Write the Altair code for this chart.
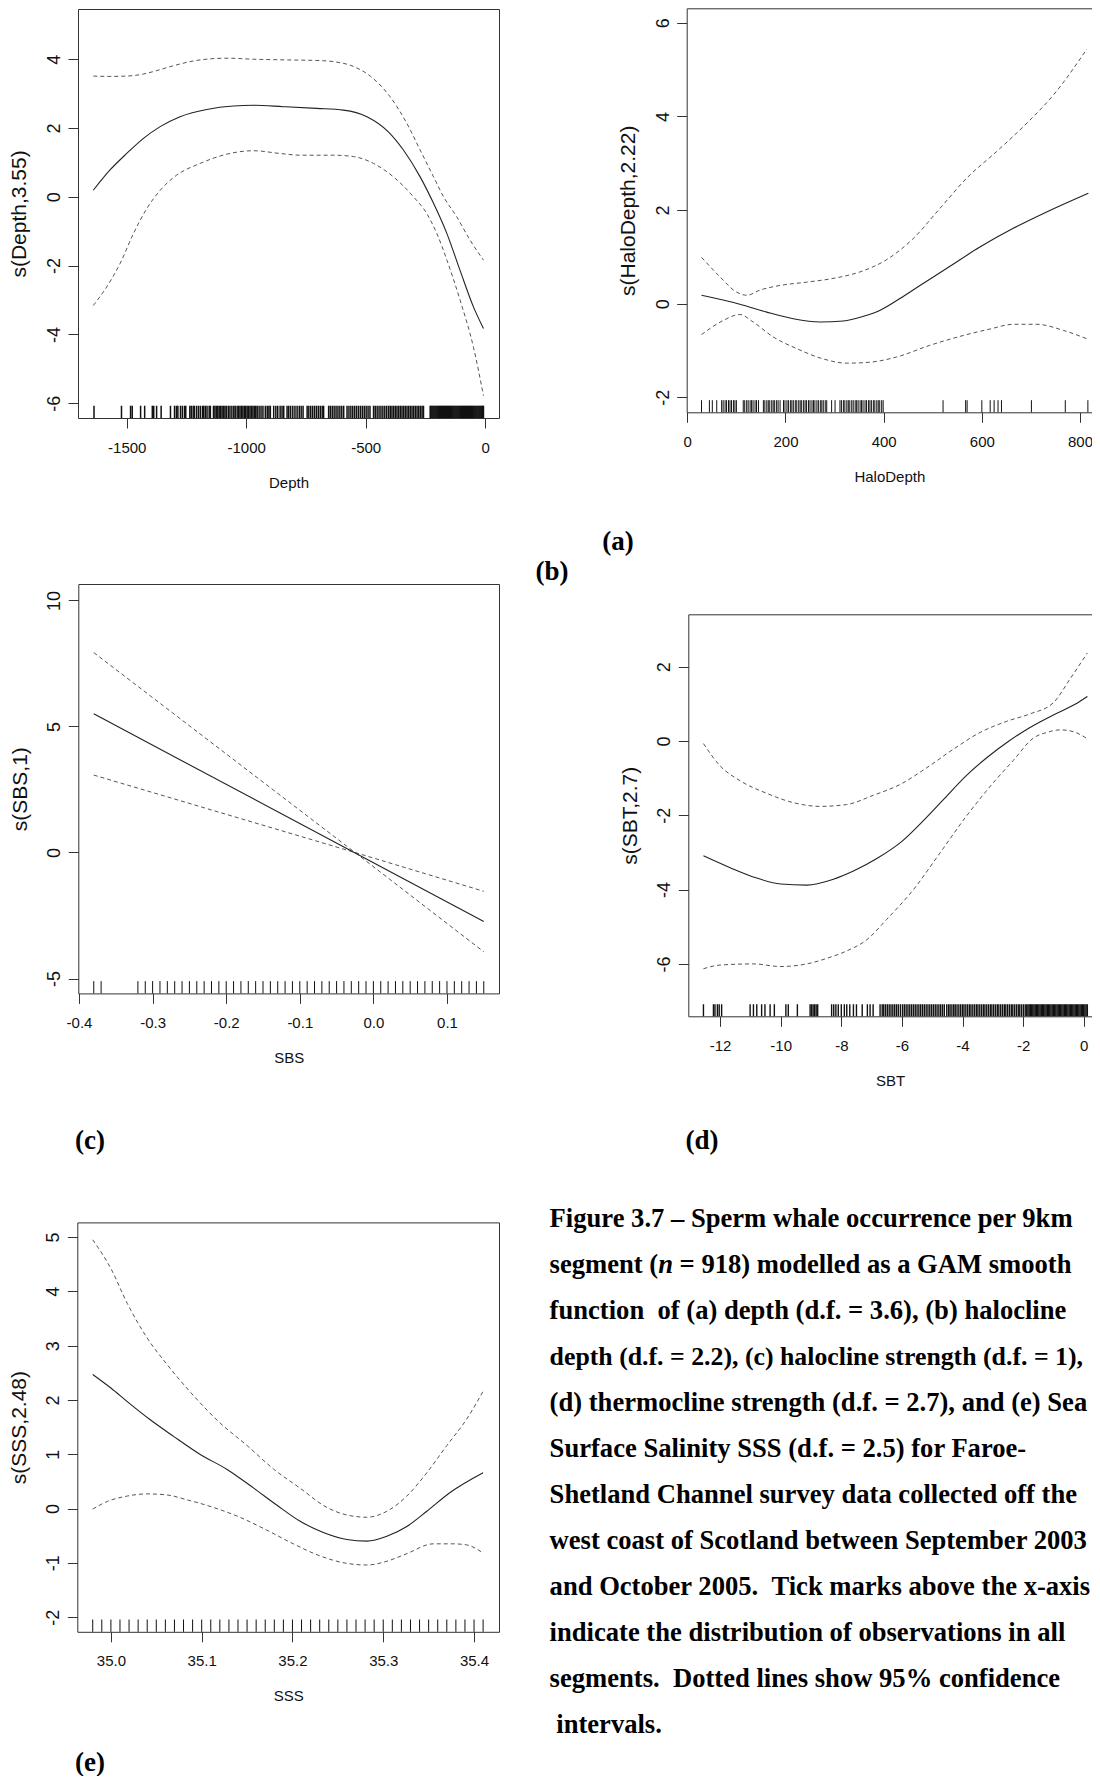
import altair as alt
import pandas as pd

# ---------------- (a) Depth ----------------
depth_fit_x = [-1640, -1570, -1500, -1430, -1360, -1277, -1165, -1053, -970, -844, -705, -593, -495, -405, -342, -272, -216, -160, -105, -49, -7]
depth_fit_y = [0.19, 0.78, 1.26, 1.70, 2.04, 2.33, 2.54, 2.64, 2.66, 2.62, 2.57, 2.52, 2.33, 1.89, 1.36, 0.58, -0.19, -1.07, -2.14, -3.20, -3.83]
depth_up_x = [-1640, -1570, -1500, -1430, -1374, -1305, -1193, -1081, -970, -830, -691, -635, -551, -481, -398, -328, -272, -216, -174, -119, -63, -7]
depth_up_y = [3.51, 3.50, 3.51, 3.57, 3.67, 3.81, 3.98, 4.03, 4.00, 3.98, 3.96, 3.93, 3.79, 3.51, 2.91, 2.14, 1.36, 0.58, 0.00, -0.58, -1.26, -1.84]
depth_lo_x = [-1640, -1584, -1528, -1472, -1416, -1360, -1291, -1193, -1081, -970, -858, -774, -635, -551, -467, -384, -300, -244, -202, -160, -105, -49, -7]
depth_lo_y = [-3.16, -2.62, -1.94, -1.07, -0.34, 0.19, 0.63, 0.97, 1.24, 1.34, 1.26, 1.21, 1.21, 1.17, 0.97, 0.58, 0.00, -0.49, -1.07, -1.84, -3.00, -4.37, -5.78]
depth_rug = [-1637, -1522, -1484, -1477, -1442, -1425, -1393, -1387, -1375, -1356, -1317,
             -1300, -1292, -1286, -1275, -1267, -1258, -1253, -1236, -1230, -1222, -1217, -1208,
             -1200, -1192, -1183, -1178, -1171, -1164, -1155, -1150,
             -1137, -1131, -1125, -1119, -1113, -1107, -1101, -1095, -1089, -1083,
             -1075, -1068, -1060, -1052, -1046,
             -1038, -1032, -1026, -1020, -1014, -1008, -1002, -996, -990, -984, -978, -972, -966, -960, -954,
             -946, -938, -930, -920, -912, -905, -899,
             -885, -876, -868, -858, -850, -843,
             -829, -822, -814, -805, -796, -787, -778, -770, -762,
             -745, -738, -730, -722, -714, -706, -698, -690, -682, -676,
             -655, -648, -640, -632, -624, -616, -608, -600, -592,
             -578, -570, -562, -554, -546, -538, -530, -522, -514, -506, -498, -490, -482,
             -467, -460, -452, -444, -436, -428, -420, -412, -404, -397,
             -390, -383, -376, -369, -362, -355, -348, -341, -334, -327, -320, -313, -306, -299, -292, -285, -278, -271, -264, -258,
             -230, -226, -222, -218, -214, -210, -206, -202, -198, -194, -190, -186, -182, -178, -174, -170, -166, -162,
             -158, -154, -150, -146, -142, -138, -134, -130, -126, -122, -118, -114, -110, -106, -102, -98, -94, -90,
             -86, -82, -78, -74, -70, -66, -62, -58, -54, -50, -46, -42, -38, -34, -30, -26, -22, -18, -14, -10, -7]

# ---------------- (b) HaloDepth ----------------
halo_fit_x = [29, 107, 162, 216, 270, 318, 359, 393, 433, 474, 528, 596, 664, 732, 817]
halo_fit_y = [0.18, -0.01, -0.18, -0.32, -0.39, -0.37, -0.27, -0.14, 0.11, 0.39, 0.75, 1.21, 1.61, 1.96, 2.36]
halo_up_x = [29, 67, 100, 121, 148, 189, 243, 297, 352, 406, 460, 515, 569, 630, 692, 746, 814]
halo_up_y = [0.99, 0.57, 0.25, 0.18, 0.29, 0.39, 0.46, 0.54, 0.68, 0.94, 1.39, 2.04, 2.68, 3.25, 3.86, 4.46, 5.44]
halo_lo_x = [29, 73, 107, 134, 175, 223, 277, 325, 372, 426, 494, 562, 617, 664, 712, 766, 814]
halo_lo_y = [-0.66, -0.36, -0.23, -0.39, -0.71, -0.96, -1.18, -1.27, -1.25, -1.14, -0.89, -0.68, -0.54, -0.44, -0.44, -0.57, -0.75]
halo_rug = [29, 45, 51, 60, 70, 73, 77, 80, 84, 87, 90, 94, 97, 100,
            114, 117, 121, 124, 128, 131, 134, 138, 141, 145,
            155, 158, 162, 165, 168, 172, 175, 178, 182, 185, 189,
            196, 199, 203, 206, 210, 213, 216, 220, 223, 227, 230,
            233, 237, 240, 243, 247, 250, 254, 257, 260, 264, 267, 271, 274, 277, 281, 284,
            294, 301, 311, 314, 318, 321, 325, 328, 331, 335, 338, 342, 345, 348, 352,
            355, 358, 362, 365, 369, 372, 375, 379, 382, 386, 389, 392, 396, 399,
            521, 567, 570, 600, 617, 625, 633, 640, 701, 770, 816]

# ---------------- (c) SBS ----------------
sbs_fit_x = [-0.38, 0.15]
sbs_fit_y = [5.50, -2.74]
sbs_up_x = [-0.38, -0.025, 0.15]
sbs_up_y = [7.93, 0.00, -1.54]
sbs_lo_x = [-0.38, -0.025, 0.15]
sbs_lo_y = [3.07, 0.00, -3.94]
sbs_rug = [-0.38, -0.37, -0.32, -0.31, -0.30, -0.29, -0.28, -0.27, -0.26, -0.25, -0.24, -0.23, -0.22, -0.21,
           -0.20, -0.19, -0.18, -0.17, -0.16, -0.15, -0.14, -0.13, -0.12, -0.11, -0.10, -0.09, -0.08,
           -0.07, -0.06, -0.05, -0.04, -0.03, -0.02, -0.01, 0.00, 0.01, 0.02, 0.03, 0.04, 0.05, 0.06,
           0.07, 0.08, 0.09, 0.10, 0.11, 0.12, 0.13, 0.14, 0.15]

# ---------------- (d) SBT ----------------
sbt_fit_x = [-12.55, -11.67, -10.79, -10.0, -9.14, -8.26, -7.6, -6.8, -6.0, -5.3, -4.6, -3.9, -3.2, -2.5, -1.8, -1.0, -0.3, 0.12]
sbt_fit_y = [-3.09, -3.41, -3.69, -3.85, -3.88, -3.72, -3.50, -3.15, -2.70, -2.15, -1.55, -0.95, -0.45, -0.02, 0.35, 0.70, 0.98, 1.20]
sbt_up_x = [-12.55, -12.0, -11.34, -10.46, -9.58, -8.7, -7.82, -6.94, -6.06, -5.18, -4.3, -3.42, -2.54, -1.77, -1.0, -0.45, 0.12]
sbt_up_y = [-0.07, -0.67, -1.07, -1.41, -1.66, -1.76, -1.71, -1.46, -1.17, -0.72, -0.22, 0.23, 0.53, 0.73, 1.03, 1.67, 2.37]
sbt_lo_x = [-12.55, -12.0, -10.9, -10.02, -9.14, -8.48, -7.82, -7.16, -6.5, -5.62, -4.74, -3.86, -2.98, -2.32, -1.66, -1.22, -0.78, -0.34, 0.12]
sbt_lo_y = [-6.13, -6.03, -6.00, -6.07, -6.00, -5.85, -5.65, -5.35, -4.80, -4.00, -3.01, -2.01, -1.12, -0.52, 0.08, 0.23, 0.30, 0.25, 0.06]
sbt_rug = [-12.55, -12.22, -12.17, -12.09, -12.03, -11.95, -11.01, -10.9, -10.79, -10.63, -10.52, -10.35, -10.21,
           -9.83, -9.75, -9.45, -9.03, -8.98, -8.93, -8.88, -8.83, -8.78, -8.32, -8.25, -8.18, -8.1, -8.0,
           -7.9, -7.82, -7.72, -7.6, -7.5, -7.31, -7.14, -7.05, -6.95,
           -6.72, -6.65, -6.6, -6.54, -6.48, -6.42, -6.36, -6.3, -6.24, -6.18, -6.12, -6.05, -5.98, -5.92,
           -5.86, -5.8, -5.74, -5.68, -5.62, -5.56, -5.5, -5.44, -5.38, -5.32, -5.26, -5.2, -5.14, -5.08,
           -5.02, -4.96, -4.9, -4.84, -4.78, -4.72, -4.66, -4.6,
           -4.52, -4.46, -4.41, -4.35, -4.29, -4.24, -4.18, -4.12, -4.06, -4.0, -3.95, -3.89, -3.83, -3.77,
           -3.72, -3.66, -3.6, -3.54, -3.49, -3.43, -3.37, -3.31, -3.26, -3.2, -3.14, -3.08, -3.03, -2.97,
           -2.91, -2.85, -2.8, -2.74, -2.68, -2.62, -2.57, -2.51, -2.45, -2.39, -2.34, -2.28, -2.22, -2.16,
           -2.11, -2.05, -1.99, -1.93, -1.88,
           -1.84, -1.8, -1.76, -1.72, -1.68, -1.64, -1.6, -1.56, -1.52, -1.48, -1.44, -1.4, -1.36, -1.32,
           -1.28, -1.24, -1.2, -1.16, -1.12, -1.08, -1.04, -1.0, -0.96, -0.92, -0.88, -0.84, -0.8, -0.76,
           -0.72, -0.68, -0.64, -0.6, -0.56, -0.52, -0.48, -0.44, -0.4, -0.36, -0.32, -0.28, -0.24, -0.2,
           -0.16, -0.12, -0.08, -0.04, 0.0, 0.04, 0.08, 0.12]

# ---------------- (e) SSS ----------------
sss_fit_x = [34.98, 35.0, 35.018, 35.043, 35.069, 35.098, 35.128, 35.157, 35.183, 35.208, 35.234, 35.26, 35.282, 35.304, 35.326, 35.348, 35.374, 35.41]
sss_fit_y = [2.47, 2.22, 1.97, 1.64, 1.33, 1.00, 0.72, 0.38, 0.06, -0.23, -0.44, -0.57, -0.60, -0.51, -0.33, -0.05, 0.30, 0.66]
sss_up_x = [34.98, 35.0, 35.018, 35.04, 35.062, 35.091, 35.12, 35.15, 35.179, 35.208, 35.238, 35.263, 35.282, 35.304, 35.326, 35.348, 35.37, 35.392, 35.41]
sss_up_y = [4.95, 4.42, 3.78, 3.14, 2.65, 2.08, 1.58, 1.16, 0.73, 0.38, 0.02, -0.13, -0.16, -0.05, 0.23, 0.66, 1.16, 1.65, 2.16]
sss_lo_x = [34.98, 34.996, 35.018, 35.04, 35.062, 35.084, 35.113, 35.142, 35.172, 35.201, 35.23, 35.26, 35.282, 35.304, 35.326, 35.355, 35.377, 35.392, 35.41]
sss_lo_y = [-0.01, 0.13, 0.23, 0.27, 0.25, 0.16, 0.02, -0.16, -0.40, -0.65, -0.87, -1.01, -1.04, -0.97, -0.83, -0.65, -0.65, -0.67, -0.82]
sss_rug = [34.98, 34.99, 35.00, 35.01, 35.02, 35.03, 35.04, 35.05, 35.06, 35.07, 35.08, 35.09, 35.10,
           35.11, 35.12, 35.13, 35.14, 35.15, 35.16, 35.17, 35.18, 35.19, 35.20, 35.21, 35.22, 35.23,
           35.24, 35.25, 35.26, 35.27, 35.28, 35.29, 35.30, 35.31, 35.32, 35.33, 35.34, 35.35, 35.36,
           35.37, 35.38, 35.39, 35.40, 35.41]

# ---------------- text ----------------
panel_labels = ["(a)", "(b)", "(c)", "(d)", "(e)"]
caption_lines = [
    "Figure 3.7 \u2013 Sperm whale occurrence per 9km",
    None,
    "function \u00a0of (a) depth (d.f. = 3.6), (b) halocline",
    "depth (d.f. = 2.2), (c) halocline strength (d.f. = 1),",
    "(d) thermocline strength (d.f. = 2.7), and (e) Sea",
    "Surface Salinity SSS (d.f. = 2.5) for Faroe-",
    "Shetland Channel survey data collected off the",
    "west coast of Scotland between September 2003",
    "and October 2005. \u00a0Tick marks above the x-axis",
    "indicate the distribution of observations in all",
    "segments. \u00a0Dotted lines show 95% confidence",
    "intervals.",
]
caption_line2 = ["segment (", "n", "= 918) modelled as a GAM smooth"]

# ---------------- layout / style ----------------
PAGE = 8
W, H = 1084, 1768
SANS = "Liberation Sans"
SERIF = "Liberation Serif"
INK = "#333333"
MINUS_FIX = "replace(datum.label, '\u2212', '-')"

XAX = dict(tickSize=10, labelPadding=12, titlePadding=20, labelFont=SANS, titleFont=SANS,
           labelFontSize=15, titleFontSize=15, titleFontWeight="normal", labelColor="#111111",
           titleColor="#111111", tickColor=INK, domain=False, grid=False, labelFlush=False,
           labelOverlap=False, minExtent=0, maxExtent=400)
YAX = dict(tickSize=10, labelPadding=8.6, titlePadding=15.5, labelFont=SANS, titleFont=SANS,
           labelFontSize=18, titleFontSize=21, titleFontWeight="normal", labelColor="#111111",
           titleColor="#111111", tickColor=INK, domain=False, grid=False, labelFlush=False,
           labelOverlap=False, labelAngle=270, labelAlign="center", labelBaseline="alphabetic",
           minExtent=0, maxExtent=400)


def panel(box, xdom, ydom, xticks, yticks, xtitle, ytitle, xfmt,
          fx, fy, ux, uy, lx, ly, rug, interp, right_edge, rug_w):
    L, T, R, B = [v - PAGE for v in box]
    xs = alt.Scale(domain=xdom, range=[L, R], nice=False, zero=False)
    ys = alt.Scale(domain=ydom, range=[B, T], nice=False, zero=False)
    xaxis = alt.Axis(orient="bottom", offset=B - H, values=xticks, title=xtitle,
                     format=xfmt, labelExpr=MINUS_FIX, **XAX)
    yaxis = alt.Axis(orient="left", offset=-L, values=yticks, title=ytitle,
                     format="d", labelExpr=MINUS_FIX, **YAX)
    X = alt.X("x:Q", scale=xs, axis=xaxis)
    Y = alt.Y("y:Q", scale=ys, axis=yaxis)
    fit = alt.Chart(pd.DataFrame({"x": fx, "y": fy})).mark_line(
        color="#222222", strokeWidth=1.1, interpolate=interp).encode(x=X, y=Y)
    up = alt.Chart(pd.DataFrame({"x": ux, "y": uy})).mark_line(
        color="#555555", strokeWidth=1, strokeDash=[4, 3], interpolate=interp).encode(x=X, y=Y)
    lo = alt.Chart(pd.DataFrame({"x": lx, "y": ly})).mark_line(
        color="#555555", strokeWidth=1, strokeDash=[4, 3], interpolate=interp).encode(x=X, y=Y)
    rugc = alt.Chart(pd.DataFrame({"x": rug})).mark_rule(
        color="#111111", strokeWidth=rug_w).encode(
        x=X, y=alt.value(B - 0.03 * (B - T)), y2=alt.value(B))
    frame = alt.Chart(pd.DataFrame({"f": [0]})).mark_rect(
        filled=False, color=INK, strokeWidth=1).encode(
        x=alt.value(L + 0.5), x2=alt.value((R + 0.5) if right_edge else (W + 20)),
        y=alt.value(T + 0.5), y2=alt.value(B + 0.5))
    return alt.layer(frame, rugc, lo, up, fit)


pa = panel((78, 9, 499, 418), [-1704, 58], [-6.43, 5.46], [-1500, -1000, -500, 0],
           [-6, -4, -2, 0, 2, 4], "Depth", "s(Depth,3.55)", "d",
           depth_fit_x, depth_fit_y, depth_up_x, depth_up_y, depth_lo_x, depth_lo_y,
           depth_rug, "monotone", True, 1.5)
pb = panel((686.7, 8.3, 1092, 412.3), [-1.2, 824.4], [-2.32, 6.31], [0, 200, 400, 600, 800],
           [-2, 0, 2, 4, 6], "HaloDepth", "s(HaloDepth,2.22)", "d",
           halo_fit_x, halo_fit_y, halo_up_x, halo_up_y, halo_lo_x, halo_lo_y,
           halo_rug, "monotone", False, 1.0)
pc = panel((78.3, 584, 499, 993.4), [-0.401, 0.1707], [-5.59, 10.65],
           [-0.4, -0.3, -0.2, -0.1, 0.0, 0.1], [-5, 0, 5, 10], "SBS", "s(SBS,1)", ".1f",
           sbs_fit_x, sbs_fit_y, sbs_up_x, sbs_up_y, sbs_lo_x, sbs_lo_y,
           sbs_rug, "linear", True, 1.0)
pd_ = panel((688.3, 614.3, 1092, 1016.3), [-13.05, 0.274], [-7.41, 3.41],
            [-12, -10, -8, -6, -4, -2, 0], [-6, -4, -2, 0, 2], "SBT", "s(SBT,2.7)", "d",
            sbt_fit_x, sbt_fit_y, sbt_up_x, sbt_up_y, sbt_lo_x, sbt_lo_y,
            sbt_rug, "monotone", False, 1.4)
pe = panel((77.3, 1222.4, 499, 1631.8), [34.963, 35.4275], [-2.27, 5.27],
           [35.0, 35.1, 35.2, 35.3, 35.4], [-2, -1, 0, 1, 2, 3, 4, 5], "SSS", "s(SSS,2.48)", ".1f",
           sss_fit_x, sss_fit_y, sss_up_x, sss_up_y, sss_lo_x, sss_lo_y,
           sss_rug, "monotone", True, 1.0)

CAP_SIZE = 26.6
LONG_LINE_SIZE = 25.8  # line 4 runs to the page edge; slightly smaller so it stays whole


def text_layer(txt, x, y, align="left", style="normal", size=CAP_SIZE):
    return alt.Chart(pd.DataFrame({"t": [txt]})).mark_text(
        font=SERIF, fontSize=size, fontWeight="bold", fontStyle=style,
        align=align, baseline="middle", color="#000000").encode(
        text="t:N", x=alt.value(x - PAGE), y=alt.value(y - PAGE))


label_pos = [(618, 542), (552, 572), (90, 1141), (702, 1141), (90, 1763)]
texts = [text_layer(t, x, y, align="center", size=27) for t, (x, y) in zip(panel_labels, label_pos)]

CAP_X, CAP_Y0, CAP_LH = 549.6, 1218.5, 46.0
SPACE = 0.25 * CAP_SIZE
for i, line in enumerate(caption_lines):
    if line is not None:
        x0 = CAP_X + (SPACE if i == len(caption_lines) - 1 else 0)
        size = LONG_LINE_SIZE if i == 3 else CAP_SIZE
        texts.append(text_layer(line, x0, CAP_Y0 + i * CAP_LH, size=size))
# line 2 with italic n
w_seg = 4.082 * CAP_SIZE
w_n = 0.556 * CAP_SIZE
y2 = CAP_Y0 + CAP_LH
texts.append(text_layer(caption_line2[0], CAP_X, y2))
texts.append(text_layer(caption_line2[1], CAP_X + w_seg, y2, style="italic"))
texts.append(text_layer(caption_line2[2], CAP_X + w_seg + w_n + SPACE, y2))

chart = alt.layer(pa, pb, pc, pd_, pe, *texts).resolve_scale(
    x="independent", y="independent"
).properties(
    width=W, height=H, autosize=alt.AutoSizeParams(type="none"), padding=0,
    background="white"
).configure_view(stroke=None)

chart.save("out.html", embed_options={"renderer": "svg", "actions": False})
